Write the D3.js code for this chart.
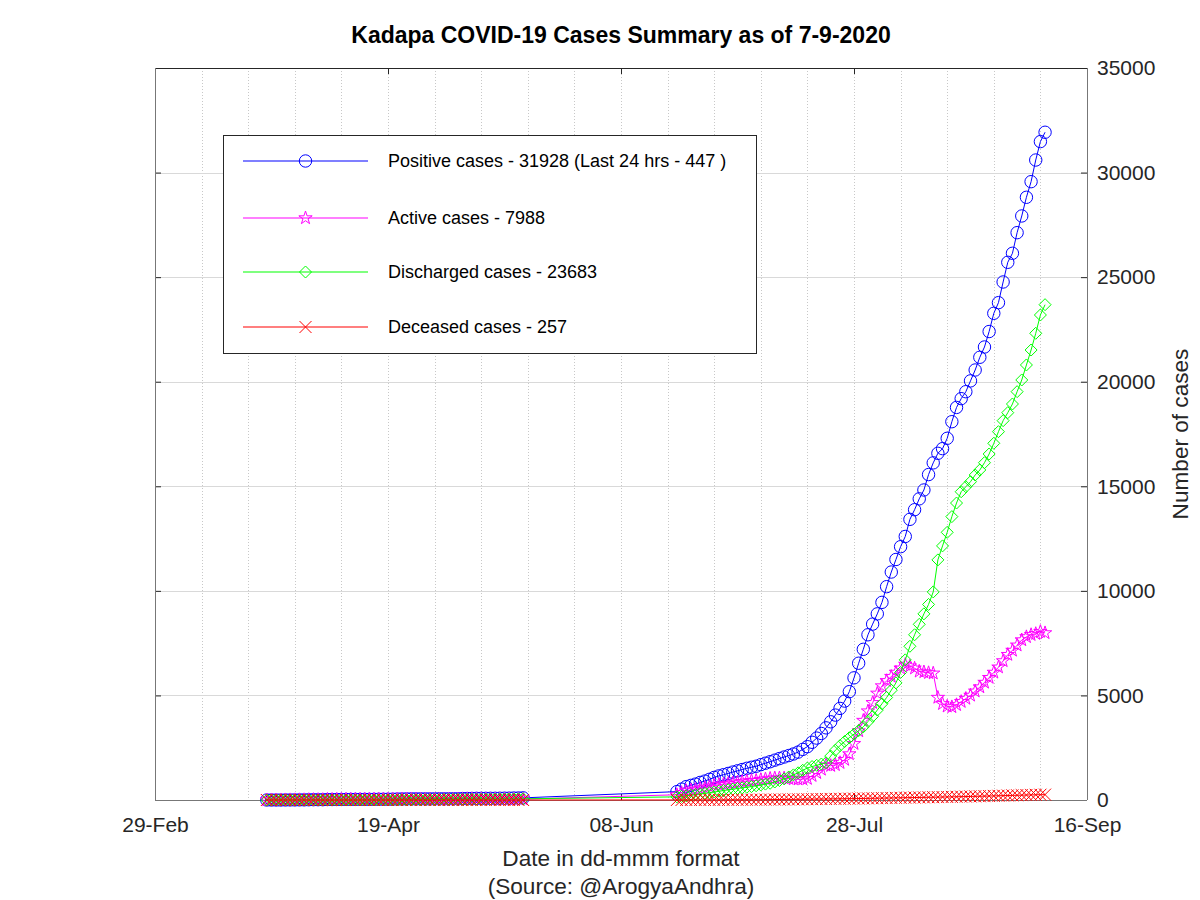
<!DOCTYPE html>
<html>
<head>
<meta charset="utf-8">
<script src="https://cdn.jsdelivr.net/npm/d3@7"></script>
<style>
  body { margin: 0; background: #fff; }
  svg { display: block; }
  text { font-family: "Liberation Sans", Arial, Helvetica, sans-serif; }
</style>
</head>
<body>
<svg id="chart" width="1200" height="900"></svg>
<script>
// ---------------- DATA ----------------
const titleText = "Kadapa COVID-19 Cases Summary as of 7-9-2020";
const xLabel = "Date in dd-mmm format";
const xLabel2 = "(Source: @ArogyaAndhra)";
const yLabel = "Number of cases";

const xTickDates = ["2020-02-29", "2020-04-19", "2020-06-08", "2020-07-28", "2020-09-16"];
const yTickValues = [0, 5000, 10000, 15000, 20000, 25000, 30000, 35000];

const seriesNames = ["Positive cases - 31928 (Last 24 hrs - 447 )", "Active cases - 7988", "Discharged cases - 23683", "Deceased cases - 257"];
const seriesColors = ["#0000ff", "#ff00ff", "#00ff00", "#ff0000"];
const seriesMarkers = ["circle", "star", "diamond", "x"];

// Segment 1: daily from 24-Mar to 18-May
const seg1Start = "2020-03-24";
const seg1Positive = [0,0,0,0,2,3,4,6,
  8,12,15,15,15,23,23,25,27,28,29,30,30,31,31,33,36,36,37,40,46,51,53,55,55,55,55,55,56,58,
  58,58,60,60,68,72,75,79,80,80,81,82,84,87,88,94,96,102];
const seg1Discharged = [0,0,0,0,0,0,0,0,
  0,0,0,0,0,0,0,0,0,0,0,0,0,0,0,0,2,4,6,8,10,12,14,16,18,20,22,24,26,28,
  30,30,31,32,33,34,35,36,38,40,42,44,46,48,50,52,55,58];
const seg1Active = [0,0,0,0,2,3,4,6,
  8,12,15,15,15,23,23,25,27,28,29,30,30,31,31,33,34,32,31,32,36,39,39,39,37,35,33,31,30,30,
  28,28,29,28,35,38,40,43,42,40,39,38,38,39,38,42,41,44];
const seg1Deceased = [0,0,0,0,0,0,0,0,
  0,0,0,0,0,0,0,0,0,0,0,0,0,0,0,0,0,0,0,0,0,0,0,0,0,0,0,0,0,0,
  0,0,0,0,0,0,0,0,0,0,0,0,0,0,0,0,0,0];

// Segment 2: daily from 20-Jun to 07-Sep
const seg2Start = "2020-06-20";
const seg2Positive = [400,520,640,700,760,840,905,990,1080,1150,
  1210,1270,1335,1395,1455,1516,1565,1615,1690,1760,
  1830,1905,1980,2055,2125,2200,2290,2420,2550,2760,
  2960,3180,3450,3740,4060,4380,4730,5180,5840,6540,
  7205,7900,8410,8900,9450,10200,10900,11500,12112,12600,
  13420,13880,14400,14823,15560,16120,16577,16800,17294,18088,
  18770,19190,19522,20040,20560,21168,21660,22400,23271,23780,
  24768,25710,26141,27126,27925,28818,29565,30600,31481,31928];
const seg2Active = [250,350,440,470,500,550,585,640,700,730,
  760,780,815,845,875,905,925,935,970,1000,
  1030,1045,1050,1045,1025,1000,990,1000,1020,1160,
  1300,1460,1670,1640,1680,1780,1930,2200,2690,3300,
  3800,4250,4650,5100,5450,5700,5900,6100,6300,6480,
  6400,6300,6150,6120,6080,6060,4900,4600,4480,4450,
  4550,4700,4850,5000,5200,5400,5620,5850,6100,6350,
  6650,6950,7150,7400,7650,7800,7900,7950,8050,7988];
const seg2Discharged = [150,170,200,230,260,290,320,350,380,420,
  450,490,520,550,580,610,640,680,720,760,
  800,860,930,1010,1100,1200,1300,1420,1530,1600,
  1660,1720,1780,2100,2380,2600,2800,2980,3150,3320,
  3500,3750,4000,4300,4600,4900,5250,5600,6100,6700,
  7350,7900,8400,8900,9350,9950,11480,12150,12800,13550,
  14200,14740,14980,15220,15540,15780,16128,16544,17055,17612,
  18138,18520,18935,19524,20083,20800,21516,22315,23190,23683];
const seg2Deceased = [2,2,3,3,3,4,4,5,5,6,
  7,8,9,10,11,12,13,14,16,18,
  20,22,24,26,28,30,32,34,37,40,
  43,46,49,52,55,58,61,64,67,70,
  74,78,82,86,90,94,98,102,106,110,
  114,118,122,126,130,134,138,142,146,150,
  155,160,165,170,175,180,185,190,196,202,
  208,214,220,226,232,238,244,249,253,257];

// ---------------- BUILD ----------------
const parse = d3.timeParse("%Y-%m-%d");
function daily(startStr, n) {
  const s = parse(startStr);
  return d3.range(n).map(i => d3.timeDay.offset(s, i));
}
const dates1 = daily(seg1Start, seg1Positive.length);
const dates2 = daily(seg2Start, seg2Positive.length);
const allDates = dates1.concat(dates2);
const seriesValues = [
  seg1Positive.concat(seg2Positive),
  seg1Active.concat(seg2Active),
  seg1Discharged.concat(seg2Discharged),
  seg1Deceased.concat(seg2Deceased)
];

const svg = d3.select("#chart");
const L = 155, R = 1087, T = 68, B = 800;

const x = d3.scaleTime().domain([parse("2020-02-29"), parse("2020-09-16")]).range([L, R]);
const y = d3.scaleLinear().domain([0, 35000]).range([B, T]);

// grid: vertical dotted every 10 days
const gridDates = d3.timeDay.range(parse("2020-03-10"), parse("2020-09-16"), 10);
svg.append("g").selectAll("line").data(gridDates).join("line")
  .attr("x1", d => Math.round(x(d)) + 0.5).attr("x2", d => Math.round(x(d)) + 0.5)
  .attr("y1", T).attr("y2", B)
  .attr("stroke", "#c8c8c8").attr("stroke-width", 1).attr("stroke-dasharray", "1,2");
// horizontal solid
svg.append("g").selectAll("line").data(yTickValues.slice(1, -1)).join("line")
  .attr("x1", L).attr("x2", R)
  .attr("y1", d => Math.round(y(d)) + 0.5).attr("y2", d => Math.round(y(d)) + 0.5)
  .attr("stroke", "#d9d9d9").attr("stroke-width", 1);

// axes
const xTicks = xTickDates.map(parse);
const fmt = d3.timeFormat("%d-%b");
const gx = svg.append("g").attr("transform", `translate(0,${B})`)
  .call(d3.axisBottom(x).tickValues(xTicks).tickFormat(fmt).tickSizeInner(-6).tickSizeOuter(0).tickPadding(17));
const gxt = svg.append("g").attr("transform", `translate(0,${T})`)
  .call(d3.axisTop(x).tickValues(xTicks).tickFormat("").tickSizeInner(-6).tickSizeOuter(0));
const gy = svg.append("g").attr("transform", `translate(${R},0)`)
  .call(d3.axisRight(y).tickValues(yTickValues).tickFormat(d3.format("d")).tickSizeInner(-6).tickSizeOuter(0).tickPadding(10));
const gyl = svg.append("g").attr("transform", `translate(${L},0)`)
  .call(d3.axisLeft(y).tickValues(yTickValues).tickFormat("").tickSizeInner(-6).tickSizeOuter(0));
[gx, gxt, gy, gyl].forEach(g => {
  g.select(".domain").remove();
  g.selectAll(".tick line").attr("stroke", "#262626");
  g.selectAll("text").attr("font-size", 21).attr("fill", "#262626")
    .attr("font-family", '"Liberation Sans", Arial, sans-serif');
});
// frame
svg.append("line").attr("x1", L).attr("x2", R).attr("y1", T + 0.5).attr("y2", T + 0.5).attr("stroke", "#262626");
svg.append("line").attr("x1", L).attr("x2", R).attr("y1", B + 0.5).attr("y2", B + 0.5).attr("stroke", "#777");
svg.append("line").attr("x1", L + 0.5).attr("x2", L + 0.5).attr("y1", T).attr("y2", B).attr("stroke", "#777");
svg.append("line").attr("x1", R + 0.5).attr("x2", R + 0.5).attr("y1", T).attr("y2", B).attr("stroke", "#777");

// marker generators
function markerPath(type) {
  if (type === "star") return d3.symbol().type(d3.symbolStar).size(55)();
  if (type === "diamond") return "M0,-6L6,0L0,6L-6,0Z";
  if (type === "x") return "M-6,-6L6,6M-6,6L6,-6";
  return null;
}
function drawMarker(g, type, color, cx, cy) {
  if (type === "circle") {
    g.append("circle").attr("cx", cx).attr("cy", cy).attr("r", 6.2)
      .attr("fill", "none").attr("stroke", color).attr("stroke-width", 1);
  } else {
    g.append("path").attr("d", markerPath(type)).attr("transform", `translate(${cx},${cy})`)
      .attr("fill", "none").attr("stroke", color).attr("stroke-width", 1);
  }
}

// series
const line = d3.line().x(d => x(d[0])).y(d => y(d[1]));
seriesValues.forEach((vals, si) => {
  const pts = allDates.map((dt, i) => [dt, vals[i]]);
  const g = svg.append("g");
  g.append("path").attr("d", line(pts)).attr("fill", "none")
    .attr("stroke", seriesColors[si]).attr("stroke-width", 1);
  pts.forEach(p => drawMarker(g, seriesMarkers[si], seriesColors[si], x(p[0]), y(p[1])));
});

// legend
const lg = svg.append("g");
lg.append("rect").attr("x", 223.5).attr("y", 135.5).attr("width", 533).attr("height", 218)
  .attr("fill", "#fff").attr("stroke", "#262626").attr("stroke-width", 1);
const legendY = [161, 218, 272, 327];
seriesNames.forEach((name, i) => {
  lg.append("line").attr("x1", 243).attr("x2", 368).attr("y1", legendY[i]).attr("y2", legendY[i])
    .attr("stroke", seriesColors[i]).attr("stroke-width", 1.2);
  drawMarker(lg, seriesMarkers[i], seriesColors[i], 305.5, legendY[i]);
  lg.append("text").attr("x", 388).attr("y", legendY[i]).attr("dy", "0.35em")
    .attr("font-size", 18).attr("fill", "#000").text(name);
});

// titles
svg.append("text").attr("x", 621).attr("y", 35).attr("dy", "0.35em").attr("text-anchor", "middle")
  .attr("font-size", 23).attr("font-weight", "bold").attr("fill", "#000").text(titleText);
svg.append("text").attr("x", 621).attr("y", 858).attr("dy", "0.35em").attr("text-anchor", "middle")
  .attr("font-size", 22.6).attr("fill", "#262626").text(xLabel);
svg.append("text").attr("x", 621).attr("y", 886).attr("dy", "0.35em").attr("text-anchor", "middle")
  .attr("font-size", 22.6).attr("fill", "#262626").text(xLabel2);
svg.append("text").attr("transform", "translate(1180,434) rotate(-90)").attr("dy", "0.35em")
  .attr("text-anchor", "middle").attr("font-size", 22.6).attr("fill", "#262626").text(yLabel);
</script>
</body>
</html>
